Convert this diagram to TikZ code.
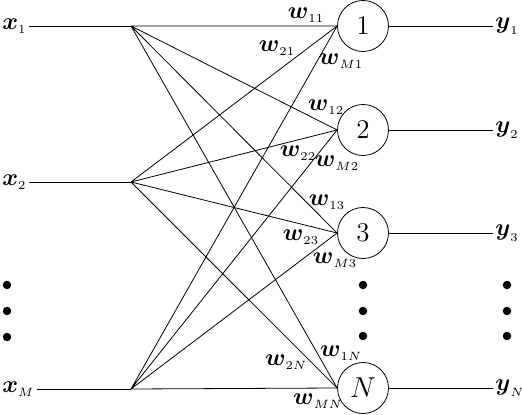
\documentclass[tikz,border=0pt]{standalone}
\usepackage{amsmath}
\newcommand{\wt}[1]{$\boldsymbol{w}_{\scriptscriptstyle #1}$}
\begin{document}
\begin{tikzpicture}[x=0.5pt,y=-0.5pt,
	neuron/.style={draw,circle,minimum size=25.5pt,inner sep=0pt,font=\fontsize{13.5}{15}\selectfont},
	wlab/.style={inner sep=0pt,font=\fontsize{12.5}{14}\selectfont},
	io/.style={inner sep=1pt,font=\fontsize{12.5}{14}\selectfont},
	dot/.style={fill,circle,inner sep=1.5pt}]
	\useasboundingbox (0,0) rectangle (522,415);
	
	\node[io,anchor=west] (x1) at (0,26) {$\boldsymbol{x}_{\scriptscriptstyle 1}$};
	\node[io,anchor=west] (x2) at (0,182) {$\boldsymbol{x}_{\scriptscriptstyle 2}$};
	\node[io,anchor=west] (xM) at (0,389) {$\boldsymbol{x}_{\scriptscriptstyle M}$};
	\coordinate (f1) at (131,26);
	\coordinate (f2) at (131,182);
	\coordinate (fM) at (131,389);
	
	\node[neuron] (n1) at (363,26) {1};
	\node[neuron] (n2) at (363,130) {2};
	\node[neuron] (n3) at (363,233) {3};
	\node[neuron] (nN) at (363,388) {$N$};
	
	\node[io,anchor=west] (y1) at (493,26) {$\boldsymbol{y}_{\scriptscriptstyle 1}$};
	\node[io,anchor=west] (y2) at (493,130) {$\boldsymbol{y}_{\scriptscriptstyle 2}$};
	\node[io,anchor=west] (y3) at (493,233) {$\boldsymbol{y}_{\scriptscriptstyle 3}$};
	\node[io,anchor=west] (yN) at (493,388) {$\boldsymbol{y}_{\scriptscriptstyle N}$};
	
	\draw (x1.east) -- (f1);
	\draw (x2.east) -- (f2);
	\draw (xM.east) -- (fM);
	\draw (f1) -- (n1.west) (f1) -- (n2.west) (f1) -- (n3.west) (f1) -- (nN.west);
	\draw (f2) -- (n1.west) (f2) -- (n2.west) (f2) -- (n3.west) (f2) -- (nN.west);
	\draw (fM) -- (n1.west) (fM) -- (n2.west) (fM) -- (n3.west) (fM) -- (nN.west);
	\draw (n1.east) -- (y1.west);
	\draw (n2.east) -- (y2.west);
	\draw (n3.east) -- (y3.west);
	\draw (nN.east) -- (yN.west);
	
	\node[wlab] (w11) at (306,15) {\wt{11}};
	\node[wlab] (w21) at (277,48) {\wt{21}};
	\node[wlab] (wM1) at (341,61) {\wt{M1}};
	\node[wlab] (w12) at (326,107) {\wt{12}};
	\node[wlab] (w22) at (298,153) {\wt{22}};
	\node[wlab] (wM2) at (337,163) {\wt{M2}};
	\node[wlab] (w13) at (327,202) {\wt{13}};
	\node[wlab] (w23) at (301,237) {\wt{23}};
	\node[wlab] (wM3) at (335,260) {\wt{M3}};
	\node[wlab] (w1N) at (341,353) {\wt{1N}};
	\node[wlab] (w2N) at (286,362) {\wt{2N}};
	\node[wlab] (wMN) at (318,401) {\wt{MN}};
	
	\node[dot] (dl1) at (7,285) {};
	\node[dot] (dl2) at (7,311) {};
	\node[dot] (dl3) at (7,337) {};
	\node[dot] (dc1) at (363,285) {};
	\node[dot] (dc2) at (363,311) {};
	\node[dot] (dc3) at (363,336) {};
	\node[dot] (dr1) at (507,285) {};
	\node[dot] (dr2) at (507,311) {};
	\node[dot] (dr3) at (507,336) {};
\end{tikzpicture}
\end{document}
